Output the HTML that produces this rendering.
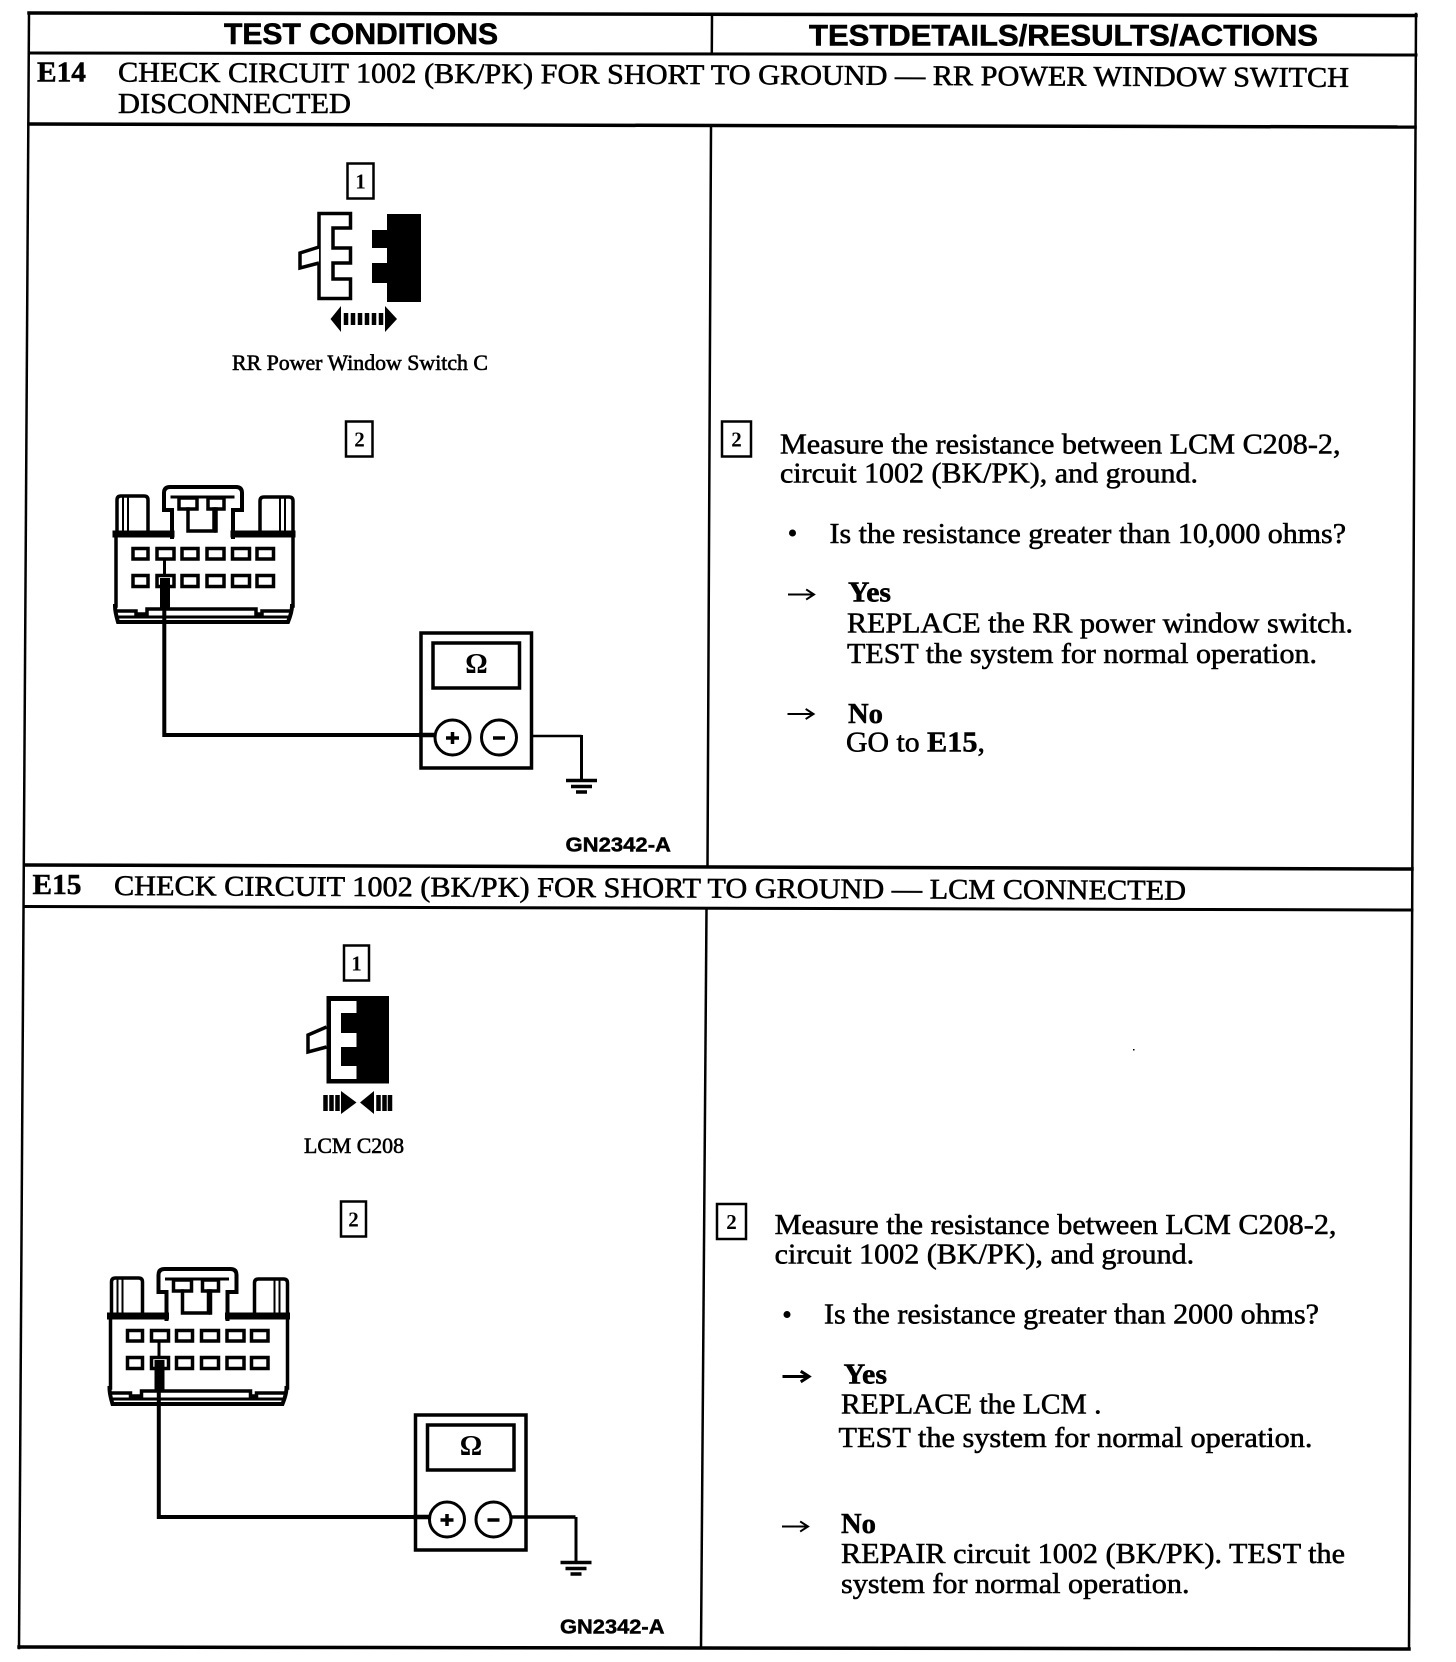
<!DOCTYPE html>
<html lang="en">
<head>
<meta charset="utf-8">
<title>E14 / E15 test procedure</title>
<style>
html,body{margin:0;padding:0;background:#fff;width:1456px;height:1662px;overflow:hidden}
svg{display:block}
.s{font-family:"Liberation Serif",serif;font-size:28.5px;fill:#000;stroke:#000;stroke-width:.55px}
.b{font-family:"Liberation Serif",serif;font-weight:bold;font-size:29px;fill:#000;stroke:#000;stroke-width:.5px}
.h{font-family:"Liberation Sans",sans-serif;font-weight:bold;font-size:30px;fill:#000;stroke:#000;stroke-width:.6px}
.g{font-family:"Liberation Sans",sans-serif;font-weight:bold;font-size:20px;fill:#000;stroke:#000;stroke-width:.45px}
.n{font-family:"Liberation Serif",serif;font-weight:bold;font-size:21px;fill:#000;text-anchor:middle}
.l{fill:none;stroke:#000;stroke-linecap:square}
</style>
</head>
<body>
<svg xmlns="http://www.w3.org/2000/svg" width="1456" height="1662" viewBox="0 0 1456 1662">
<defs>
<g id="conn">
  <!-- tabs -->
  <path class="l" stroke-width="3.5" d="M117 532V500Q117 496 121 496H144Q148 496 148 500V532"/>
  <path class="l" stroke-width="3.5" d="M260 532V501Q260 497 264 497H289Q293 497 293 501V532"/>
  <path class="l" stroke-width="2" d="M123 498V531M128 498V531M280 498V531M285 498V531"/>
  <!-- centre clip -->
  <path class="l" stroke-width="4" d="M172 537V510H164V493Q164 487 170 487H236Q242 487 242 493V510H233V537"/>
  <path class="l" stroke-width="3" d="M172 497H233"/>
  <rect x="179" y="498" width="18" height="11" fill="#fff" stroke="#000" stroke-width="3.5"/>
  <rect x="208" y="498" width="16" height="11" fill="#fff" stroke="#000" stroke-width="3.5"/>
  <path class="l" stroke-width="3.5" d="M188 509V531H214V509"/>
  <path class="l" stroke-width="3.5" d="M216 509V531"/>
  <!-- body -->
  <path class="l" stroke-width="7" d="M116 534H171M234 534H292"/>
  <path class="l" stroke-width="3.5" d="M116 534V606M293 534V606"/>
  <path class="l" stroke-width="4" d="M115 606Q115 612 118 622H288Q292 612 292 606"/>
  <path class="l" stroke-width="3.5" d="M147 609H256M147 609V613M116 611H136M262 611H290M256 609V614H262V611M136 611V614H147"/>
  <path class="l" stroke-width="3" d="M118 617H288"/>
  <!-- terminals -->
  <g fill="#fff" stroke="#000" stroke-width="3.5">
    <rect x="133" y="548.5" width="15" height="10.5"/><rect x="157" y="548.5" width="17" height="10.5"/><rect x="182" y="548.5" width="16" height="10.5"/><rect x="207" y="548.5" width="17" height="10.5"/><rect x="232.5" y="548.5" width="17" height="10.5"/><rect x="257" y="548.5" width="16.5" height="10.5"/>
    <rect x="133" y="575.5" width="15" height="11"/><rect x="157" y="575.5" width="17" height="11"/><rect x="182" y="575.5" width="16" height="11"/><rect x="207" y="575.5" width="17" height="11"/><rect x="232.5" y="575.5" width="17" height="11"/><rect x="257" y="575.5" width="16.5" height="11"/>
  </g>
  <!-- probe -->
  <path d="M164.5 559V576" stroke="#000" stroke-width="3"/>
  <rect x="160" y="578" width="10" height="31" fill="#000"/>
  <path class="l" stroke-width="4" stroke-linejoin="miter" d="M164.3 608V735H436"/>
  <!-- meter -->
  <rect x="421" y="633" width="110.5" height="135" fill="#fff" stroke="#000" stroke-width="3.5"/>
  <rect x="433" y="643" width="86.5" height="45" fill="#fff" stroke="#000" stroke-width="3.5"/>
  <text x="476.5" y="673" font-family="Liberation Serif, DejaVu Serif, serif" font-size="28" font-weight="bold" text-anchor="middle" fill="#000">Ω</text>
  <path class="l" stroke-width="4.5" d="M421 735H434"/>
  <ellipse cx="452.5" cy="737.5" rx="17.5" ry="17.5" fill="#fff" stroke="#000" stroke-width="3"/>
  <ellipse cx="499" cy="737.5" rx="17.5" ry="17.5" fill="#fff" stroke="#000" stroke-width="3"/>
  <path d="M446 738H459M452.5 732V744M493 738H505" stroke="#000" stroke-width="3.5"/>
  <!-- ground -->
  <path d="M581.5 735V779" stroke="#000" stroke-width="3" fill="none"/>
  <path d="M566 780.5H597M571 786.5H592M576 792H587" stroke="#000" stroke-width="3.5"/>
</g>
</defs>

<rect width="1456" height="1662" fill="#fff"/>

<!-- table frame -->
<g class="l" stroke="#000">
  <path stroke-width="3.5" d="M29 13L1416 15.5"/>
  <path stroke-width="2.5" d="M29 13L19 1648"/>
  <path stroke-width="2.5" d="M1416 14L1409 1648"/>
  <path stroke-width="3" d="M29 53L1416 55"/>
  <path stroke-width="3.5" d="M29 124L1415 127"/>
  <path stroke-width="3.5" d="M25 865L1412 869"/>
  <path stroke-width="3" d="M24 906.5L1412 910"/>
  <path stroke-width="3.5" d="M19 1647L1409 1649"/>
  <path stroke-width="2.5" d="M712 15L711.8 53"/>
  <path stroke-width="2.5" d="M711 127L707.5 866"/>
  <path stroke-width="2.5" d="M706.5 909L701 1648"/>
</g>

<!-- E14 meter-to-ground lead -->
<path d="M517 736H581.5" stroke="#000" stroke-width="2.5"/>

<!-- headers -->
<text class="h" x="224" y="44" textLength="274" lengthAdjust="spacingAndGlyphs">TEST CONDITIONS</text>
<text class="h" x="809" y="45.5" textLength="509" lengthAdjust="spacingAndGlyphs">TESTDETAILS/RESULTS/ACTIONS</text>

<text class="b" x="37" y="81.5" textLength="49" lengthAdjust="spacingAndGlyphs">E14</text>
<text class="s" transform="rotate(0.25 118 81.5)" x="118" y="81.5" textLength="1231" lengthAdjust="spacingAndGlyphs">CHECK CIRCUIT 1002 (BK/PK) FOR SHORT TO GROUND — RR POWER WINDOW SWITCH</text>
<text class="s" x="118" y="113" textLength="233" lengthAdjust="spacingAndGlyphs">DISCONNECTED</text>

<text class="b" x="32.5" y="894" textLength="49" lengthAdjust="spacingAndGlyphs">E15</text>
<text class="s" transform="rotate(0.25 114 895)" x="114" y="895" textLength="1072" lengthAdjust="spacingAndGlyphs">CHECK CIRCUIT 1002 (BK/PK) FOR SHORT TO GROUND — LCM CONNECTED</text>

<!-- E14 step 1 -->
<rect x="347.5" y="163.5" width="26" height="35" fill="#fff" stroke="#000" stroke-width="2.5"/>
<text class="n" x="360.5" y="188.5">1</text>
<path fill="#fff" stroke="#000" stroke-width="3.5" d="M319 213.5H350.5V228H333V248H350.5V263H333V279H350.5V298.5H319Z"/>
<path fill="#fff" stroke="#000" stroke-width="3.5" d="M319 247L300 253V268L319 263"/>
<path fill="#000" d="M387 214H421V302H387V283H372V263H387V248H372V230H387Z"/>
<path fill="#000" d="M330.5 319L341 306V332Z M397 319L385 306V332Z"/>
<path stroke="#000" stroke-width="4.5" d="M346 313V325M353 313V325M360 313V325M367 313V325M374 313V325M381 313V325"/>
<text class="s" style="font-size:22px;stroke-width:.6px" x="232" y="370" textLength="256" lengthAdjust="spacingAndGlyphs">RR Power Window Switch C</text>

<!-- E14 step 2 -->
<rect x="346" y="421.5" width="26.5" height="35" fill="#fff" stroke="#000" stroke-width="2.5"/>
<text class="n" x="359.5" y="446.5">2</text>
<use href="#conn"/>
<text class="g" x="565.5" y="851.5" textLength="105.5" lengthAdjust="spacingAndGlyphs">GN2342-A</text>

<!-- E14 right column -->
<rect x="722" y="421.5" width="29" height="35" fill="#fff" stroke="#000" stroke-width="2.5"/>
<text class="n" x="736.5" y="446.5">2</text>
<text class="s" x="780" y="453.5" textLength="560.5" lengthAdjust="spacingAndGlyphs">Measure the resistance between LCM C208-2,</text>
<text class="s" x="780" y="482.5" textLength="418" lengthAdjust="spacingAndGlyphs">circuit 1002 (BK/PK), and ground.</text>
<circle cx="792.5" cy="533" r="3.5" fill="#000"/>
<text class="s" x="829.5" y="543" textLength="516.5" lengthAdjust="spacingAndGlyphs">Is the resistance greater than 10,000 ohms?</text>
<path class="l" stroke-width="2" d="M789 594.5H813M807 590L814 594.5L807 599"/>
<text class="b" x="848" y="601.5" textLength="43" lengthAdjust="spacingAndGlyphs">Yes</text>
<text class="s" x="847" y="632.5" textLength="506" lengthAdjust="spacingAndGlyphs">REPLACE the RR power window switch.</text>
<text class="s" x="847" y="663" textLength="470" lengthAdjust="spacingAndGlyphs">TEST the system for normal operation.</text>
<path class="l" stroke-width="2" d="M788.5 714H812.5M806.5 709.5L813.5 714L806.5 718.5"/>
<text class="b" x="848" y="723" textLength="35" lengthAdjust="spacingAndGlyphs">No</text>
<text class="s" x="846" y="751.5" textLength="139" lengthAdjust="spacingAndGlyphs">GO to <tspan class="b">E15</tspan>,</text>

<!-- E15 step 1 -->
<rect x="344" y="945.5" width="25" height="35" fill="#fff" stroke="#000" stroke-width="2.5"/>
<text class="n" x="356.5" y="970.5">1</text>
<rect x="326.5" y="996" width="62.5" height="87.5" fill="#000"/>
<path fill="#fff" d="M331 1001H356.5V1013H341V1033H356.5V1047H341V1066H356.5V1079H331Z"/>
<path fill="#fff" stroke="#000" stroke-width="3.5" d="M326.5 1027L308 1035V1052L326.5 1047"/>
<path fill="#000" d="M341 1091L356.5 1102.5L341 1114Z M360 1102.5L374 1091V1114Z"/>
<path stroke="#000" stroke-width="4.5" d="M325.5 1095V1111M331.5 1095V1111M337.5 1095V1111M378.5 1095V1111M384.5 1095V1111M390 1095V1111"/>
<text class="s" style="font-size:22px;stroke-width:.6px" x="304" y="1153" textLength="100" lengthAdjust="spacingAndGlyphs">LCM C208</text>
<rect x="341" y="1201.5" width="25" height="35" fill="#fff" stroke="#000" stroke-width="2.5"/>
<text class="n" x="353.5" y="1226.5">2</text>

<!-- E15 step 2 -->
<use href="#conn" transform="translate(-5.5 782)"/>
<path d="M511 1517H575.5" stroke="#000" stroke-width="3.5"/>
<text class="g" x="560" y="1633.5" textLength="104.5" lengthAdjust="spacingAndGlyphs">GN2342-A</text>

<!-- E15 right column -->
<rect x="717" y="1204" width="29" height="35" fill="#fff" stroke="#000" stroke-width="2.5"/>
<text class="n" x="731.5" y="1229">2</text>
<text class="s" x="774.7" y="1234" textLength="561.8" lengthAdjust="spacingAndGlyphs">Measure the resistance between LCM C208-2,</text>
<text class="s" x="774.7" y="1263.5" textLength="419.5" lengthAdjust="spacingAndGlyphs">circuit 1002 (BK/PK), and ground.</text>
<circle cx="787" cy="1314.5" r="3.5" fill="#000"/>
<text class="s" x="824" y="1323.5" textLength="495" lengthAdjust="spacingAndGlyphs">Is the resistance greater than 2000 ohms?</text>
<path class="l" stroke-width="3" d="M784 1376.5H808M802 1372L809 1376.5L802 1381"/>
<text class="b" x="843.7" y="1383.5" textLength="43.3" lengthAdjust="spacingAndGlyphs">Yes</text>
<text class="s" x="841" y="1413.5" textLength="260.5" lengthAdjust="spacingAndGlyphs">REPLACE the LCM .</text>
<text class="s" x="838.5" y="1447" textLength="474" lengthAdjust="spacingAndGlyphs">TEST the system for normal operation.</text>
<path class="l" stroke-width="2" d="M783 1526.5H807M801 1522L808 1526.5L801 1531"/>
<text class="b" x="841" y="1533" textLength="35" lengthAdjust="spacingAndGlyphs">No</text>
<text class="s" x="841" y="1563" textLength="504" lengthAdjust="spacingAndGlyphs">REPAIR circuit 1002 (BK/PK). TEST the</text>
<text class="s" x="841" y="1593" textLength="348.5" lengthAdjust="spacingAndGlyphs">system for normal operation.</text>

<rect x="1133" y="1049" width="1.5" height="1.5" fill="#000"/>
</svg>
</body>
</html>
